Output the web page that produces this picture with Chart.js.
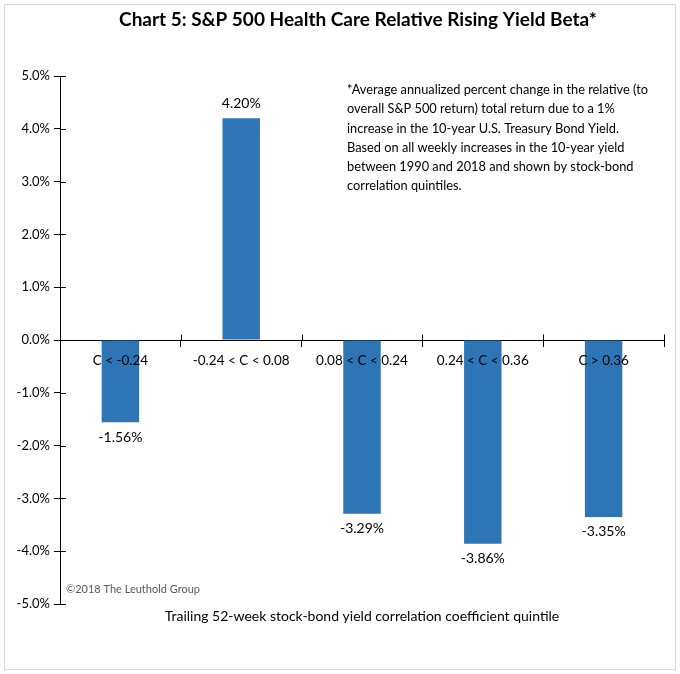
<!DOCTYPE html>
<html>
<head>
<meta charset="utf-8">
<script src="https://cdn.jsdelivr.net/npm/chart.js@4"></script>
<style>
  html, body { margin: 0; padding: 0; background: #fff; }
  #wrap { position: relative; width: 680px; height: 674px; }
</style>
</head>
<body>
<div id="wrap"><canvas id="chart" width="680" height="674"></canvas></div>
<script>
var categories = ["C < -0.24", "-0.24 < C < 0.08", "0.08 < C < 0.24", "0.24 < C < 0.36", "C > 0.36"];
var beta = [-1.56, 4.20, -3.29, -3.86, -3.35];
var yTicks = [-5, -4, -3, -2, -1, 0, 1, 2, 3, 4, 5];

var FONT = "Lato, 'Open Sans', sans-serif";
var noteLines = [
    "*Average annualized percent change in the relative (to",
    "overall S&P 500 return) total return due to a 1%",
    "increase in the 10-year U.S. Treasury Bond Yield.",
    "Based on all weekly increases in the 10-year yield",
    "between 1990 and 2018 and shown by stock-bond",
    "correlation quintiles."
];

var extras = {
    id: 'extras',
    beforeDraw: function (chart) {
        var c = chart.ctx;
        c.save();
        c.fillStyle = '#fff';
        c.fillRect(0, 0, chart.width, chart.height);
        c.strokeStyle = '#d9d9d9';
        c.lineWidth = 1;
        c.strokeRect(4.5, 4.5, chart.width - 9, chart.height - 9);
        c.restore();
    },
    afterDraw: function (chart) {
        var c = chart.ctx, x = chart.scales.x, y = chart.scales.y;
        var area = chart.chartArea;
        c.save();
        // title
        c.fillStyle = '#000';
        c.textAlign = 'center';
        c.textBaseline = 'middle';
        c.font = "bold 19px " + FONT;
        c.fillText("Chart 5: S&P 500 Health Care Relative Rising Yield Beta*", 358, 20);

        // ticks crossing the axes (inside part)
        c.strokeStyle = '#000';
        c.lineWidth = 1;
        var zeroY = Math.round(y.getPixelForValue(0)) + 0.5;
        yTicks.forEach(function (v) {
            var py = Math.round(y.getPixelForValue(v)) + 0.5;
            c.beginPath();
            c.moveTo(area.left, py);
            c.lineTo(area.left + 6, py);
            c.stroke();
        });
        for (var i = 0; i <= categories.length; i++) {
            var px = Math.round(area.left + i * (area.right - area.left) / categories.length) + 0.5;
            c.beginPath();
            c.moveTo(px, zeroY - 6);
            c.lineTo(px, zeroY);
            c.stroke();
        }

        // category labels, drawn over the bars
        c.font = "13.5px " + FONT;
        categories.forEach(function (lab, i) {
            c.fillText(lab, x.getPixelForValue(i), zeroY + 20);
        });

        // value labels
        c.font = "14px " + FONT;
        c.fillStyle = '#000';
        var meta = chart.getDatasetMeta(0);
        meta.data.forEach(function (bar, i) {
            var v = beta[i];
            var ty = v >= 0 ? bar.y - 15 : bar.y + 15;
            c.fillText(v.toFixed(2) + '%', bar.x, ty);
        });

        // footnote
        c.textAlign = 'left';
        c.font = "12.8px " + FONT;
        noteLines.forEach(function (line, i) {
            c.fillText(line, 347, 90 + i * 19.2);
        });

        // copyright
        c.fillStyle = '#595959';
        c.font = "11px " + FONT;
        c.fillText("\u00A92018 The Leuthold Group", 66, 589);

        // x axis title
        c.fillStyle = '#000';
        c.textAlign = 'center';
        c.font = "14px " + FONT;
        c.fillText("Trailing 52-week stock-bond yield correlation coefficient quintile", 362, 616);
        c.restore();
    }
};

new Chart(document.getElementById('chart'), {
    type: 'bar',
    data: {
        labels: categories,
        datasets: [{
            data: beta,
            backgroundColor: '#2e75b6',
            borderWidth: 0,
            barPercentage: 0.62,
            categoryPercentage: 0.5
        }]
    },
    options: {
        responsive: false,
        animation: false,
        devicePixelRatio: 1,
        layout: { padding: { left: 4, right: 16, top: 76, bottom: 70 } },
        plugins: { legend: { display: false }, tooltip: { enabled: false } },
        scales: {
            x: {
                position: { y: 0 },
                offset: true,
                grid: { offset: true, drawOnChartArea: false, tickLength: 6, color: '#000' },
                border: { color: '#000', width: 1 },
                ticks: { color: 'rgba(0,0,0,0)', font: { family: FONT, size: 13 }, padding: 6, maxRotation: 0 }
            },
            y: {
                min: -5,
                max: 5,
                afterBuildTicks: function (scale) {
                    scale.ticks = yTicks.map(function (v) { return { value: v }; });
                },
                afterFit: function (scale) { scale.width = 56; },
                grid: { drawOnChartArea: false, tickLength: 6, color: '#000' },
                border: { color: '#000', width: 1 },
                ticks: {
                    color: '#000',
                    font: { family: FONT, size: 13 },
                    padding: 4,
                    callback: function (v) { return v.toFixed(1) + '%'; }
                }
            }
        }
    },
    plugins: [extras]
});
</script>
</body>
</html>
